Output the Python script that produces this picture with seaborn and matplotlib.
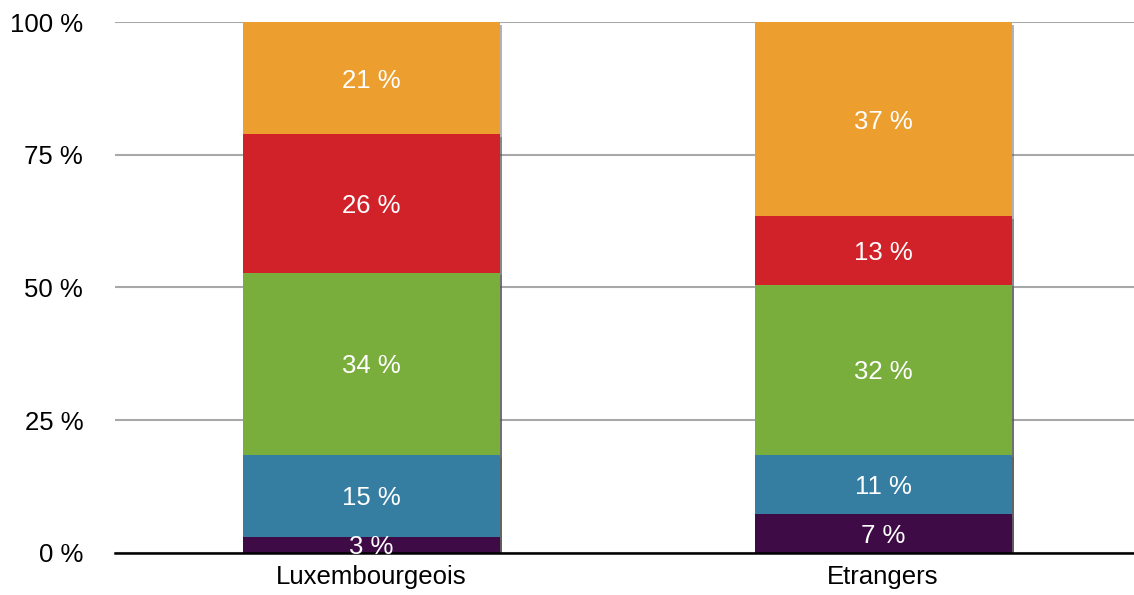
# 国籍別の構成比 (積み上げ棒グラフ)

import numpy as np
import pandas as pd
import seaborn as sns
import matplotlib.pyplot as plt
import matplotlib.patheffects as pe

# データ
categories = ["Luxembourgeois", "Etrangers"]
segment_colors = ["#3E0B47", "#357EA2", "#7AAE3C", "#D1222A", "#EC9E2F"]
lux_values = [3.0, 15.4, 34.4, 26.1, 21.1]
etr_values = [7.3, 11.2, 32.0, 12.9, 36.6]
y_ticks = [0, 25, 50, 75, 100]

sns.set_style("white")
plt.rcParams['font.family'] = ['Liberation Sans', 'DejaVu Sans']

vals = np.array([lux_values, etr_values])
cum = vals.cumsum(axis=1)

fig, ax = plt.subplots(figsize=(11.34, 5.95), dpi=100)
fig.subplots_adjust(left=0.1015, right=1.0, top=0.963, bottom=0.071)

# 上の段から順に重ねて描く
shadow = [pe.SimplePatchShadow(offset=(2, -2), shadow_rgbFace="#555555", alpha=0.45), pe.Normal()]
for i in reversed(range(len(segment_colors))):
    df = pd.DataFrame({"cat": categories, "val": cum[:, i]})
    sns.barplot(data=df, x="cat", y="val", color=segment_colors[i], saturation=1,
                width=0.502, ax=ax, zorder=3, linewidth=0)

for p in ax.patches:
    p.set_path_effects(shadow)

# ラベル (軸線より前面に)
for j in range(len(categories)):
    for i in range(len(segment_colors)):
        y = cum[j, i] - vals[j, i] / 2
        ax.text(j, y, f"{vals[j, i]:.0f} %", ha="center", va="center_baseline",
                color="white", fontsize=18.5, zorder=8, clip_on=False)

ax.set_xlim(-0.5, 1.49)
ax.set_ylim(0, 100)
ax.set_yticks(y_ticks)
ax.set_yticklabels([f"{t} %" for t in y_ticks], fontsize=18.5, color="black")
ax.tick_params(axis="x", labelsize=18.5, labelcolor="black", length=0, pad=9)
ax.tick_params(axis="y", length=0, pad=23)
ax.set_xlabel("")
ax.set_ylabel("")

ax.yaxis.grid(True, color="#A8A8A8", linewidth=1.5, zorder=0)
ax.set_axisbelow(True)
for s in ["top", "right", "left"]:
    ax.spines[s].set_visible(False)
ax.spines["bottom"].set_color("black")
ax.spines["bottom"].set_linewidth(1.8)
ax.spines["bottom"].set_zorder(6)

plt.savefig("out.png", dpi=100)
